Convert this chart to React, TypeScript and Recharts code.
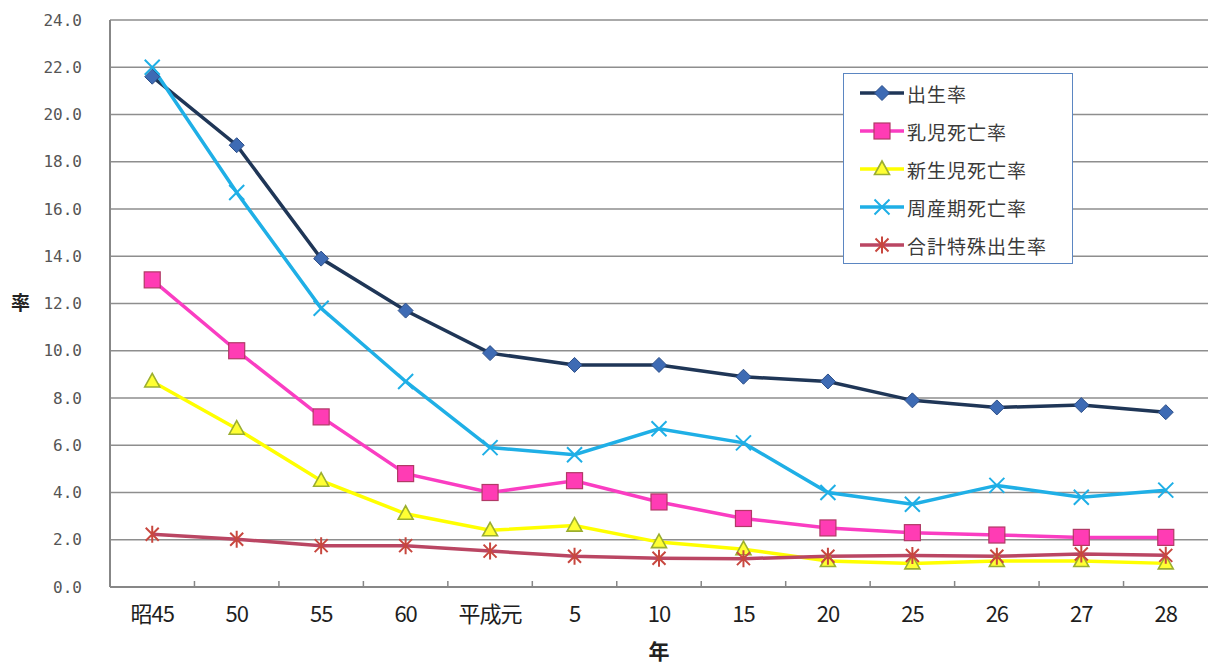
import React from "react";
import {
  LineChart,
  Line,
  XAxis,
  YAxis,
  CartesianGrid,
  Legend,
} from "recharts";

// 年次
const years = ["昭45", "50", "55", "60", "平成元", "5", "10", "15", "20", "25", "26", "27", "28"];

// 各率（人口千対など）
const birthRate = [21.6, 18.7, 13.9, 11.7, 9.9, 9.4, 9.4, 8.9, 8.7, 7.9, 7.6, 7.7, 7.4];
const infantMortality = [13.0, 10.0, 7.2, 4.8, 4.0, 4.5, 3.6, 2.9, 2.5, 2.3, 2.2, 2.1, 2.1];
const neonatalMortality = [8.7, 6.7, 4.5, 3.1, 2.4, 2.6, 1.9, 1.6, 1.1, 1.0, 1.1, 1.1, 1.0];
const perinatalMortality = [22.0, 16.7, 11.8, 8.7, 5.9, 5.6, 6.7, 6.1, 4.0, 3.5, 4.3, 3.8, 4.1];
const totalFertility = [2.23, 2.02, 1.75, 1.75, 1.52, 1.3, 1.22, 1.2, 1.3, 1.33, 1.3, 1.4, 1.34];

const yTicks = [0, 2, 4, 6, 8, 10, 12, 14, 16, 18, 20, 22, 24];

const data = years.map((year, i) => ({
  year,
  birth: birthRate[i],
  infant: infantMortality[i],
  neonatal: neonatalMortality[i],
  perinatal: perinatalMortality[i],
  fertility: totalFertility[i],
}));

const W = 1208;
const H = 664;
const M = { top: 20, right: 0, bottom: 0, left: 0 };
const Y_AXIS_W = 110;
const X_AXIS_H = 77;
const BAND = (W - Y_AXIS_W - M.right) / years.length;

const AXIS = "#878787";
const JP = '"Noto Sans CJK JP", "Noto Sans", sans-serif';

type Marker = "diamond" | "square" | "triangle" | "cross" | "star";

const series: {
  key: string;
  name: string;
  line: string;
  fill: string;
  stroke: string;
  marker: Marker;
}[] = [
  { key: "birth", name: "出生率", line: "#1F3657", fill: "#3E6BB4", stroke: "#2C4E88", marker: "diamond" },
  { key: "infant", name: "乳児死亡率", line: "#FA3DC2", fill: "#FF3CB4", stroke: "#B13A66", marker: "square" },
  { key: "neonatal", name: "新生児死亡率", line: "#FFFF00", fill: "#FFFF33", stroke: "#9BAE30", marker: "triangle" },
  { key: "perinatal", name: "周産期死亡率", line: "#1FAFE6", fill: "none", stroke: "#1FAFE6", marker: "cross" },
  { key: "fertility", name: "合計特殊出生率", line: "#BA4663", fill: "none", stroke: "#C8473F", marker: "star" },
];

const drawMarker = (marker: Marker, cx: number, cy: number, fill: string, stroke: string) => {
  switch (marker) {
    case "diamond":
      return (
        <path
          d={`M${cx},${cy - 7.5}L${cx + 7.5},${cy}L${cx},${cy + 7.5}L${cx - 7.5},${cy}Z`}
          fill={fill}
          stroke={stroke}
          strokeWidth={1}
        />
      );
    case "square":
      return <rect x={cx - 8} y={cy - 8} width={16} height={16} fill={fill} stroke={stroke} strokeWidth={1.2} />;
    case "triangle":
      return (
        <path
          d={`M${cx},${cy - 8}L${cx + 7.5},${cy + 5.5}L${cx - 7.5},${cy + 5.5}Z`}
          fill={fill}
          stroke={stroke}
          strokeWidth={1.6}
        />
      );
    case "cross":
      return (
        <path
          d={`M${cx - 7.5},${cy - 7.5}L${cx + 7.5},${cy + 7.5}M${cx - 7.5},${cy + 7.5}L${cx + 7.5},${cy - 7.5}`}
          stroke={stroke}
          strokeWidth={2}
          fill="none"
        />
      );
    case "star":
      return (
        <path
          d={`M${cx - 6.5},${cy - 6.5}L${cx + 6.5},${cy + 6.5}M${cx - 6.5},${cy + 6.5}L${cx + 6.5},${cy - 6.5}M${cx},${cy - 8.5}L${cx},${cy + 8.5}`}
          stroke={stroke}
          strokeWidth={2}
          fill="none"
        />
      );
  }
};

const makeDot = (s: (typeof series)[number]) => (props: any) => {
  const { cx, cy, index } = props;
  if (cx == null || cy == null) return <g key={`${s.key}-${index}`} />;
  return <g key={`${s.key}-${index}`}>{drawMarker(s.marker, cx, cy, s.fill, s.stroke)}</g>;
};

// 目盛線は項目の境界に内向きで描く
const XTick = (props: any) => {
  const { x, y, payload, index } = props;
  const edge = x - BAND / 2;
  return (
    <g>
      {index > 0 && <line x1={edge} x2={edge} y1={y - 6} y2={y} stroke={AXIS} strokeWidth={1.5} />}
      <text
        x={x}
        y={y + 35}
        textAnchor="middle"
        fontSize={22}
        fontFamily={JP}
        fill="#1E1E1E"
        letterSpacing={-1}
      >
        {payload.value}
      </text>
    </g>
  );
};

const LegendBox = () => (
  <div
    style={{
      width: 230,
      height: 191,
      border: "1.5px solid #5B86C2",
      background: "#fff",
      boxSizing: "border-box",
    }}
  >
    {series.map((s) => (
      <div key={s.key} style={{ display: "flex", alignItems: "center", height: 38 }}>
        <svg width={62} height={20} style={{ flex: "none" }}>
          <line x1={16} x2={60} y1={10} y2={10} stroke={s.line} strokeWidth={3.5} />
          {drawMarker(s.marker, 38, 10, s.fill, s.stroke)}
        </svg>
        <span
          style={{
            fontFamily: JP,
            fontSize: 19,
            color: "#3A3A3A",
            letterSpacing: 1,
            marginLeft: 1,
            lineHeight: 1,
          }}
        >
          {s.name}
        </span>
      </div>
    ))}
  </div>
);

export default function App() {
  return (
    <div style={{ position: "absolute", left: 0, top: 0, width: W, height: H, background: "#fff" }}>
      <LineChart width={W} height={H} data={data} margin={M}>
        <CartesianGrid horizontal vertical={false} stroke="#8E8E8E" strokeWidth={1.5} />
        <XAxis
          dataKey="year"
          scale="band"
          height={X_AXIS_H}
          axisLine={{ stroke: AXIS, strokeWidth: 2 }}
          tickLine={false}
          tickSize={0}
          tickMargin={0}
          interval={0}
          tick={<XTick />}
          label={{
            value: "年",
            position: "insideBottom",
            offset: 5,
            style: { fontFamily: JP, fontSize: 21, fontWeight: 700, fill: "#222" },
          }}
        />
        <YAxis
          width={Y_AXIS_W}
          domain={[0, 24]}
          ticks={yTicks}
          interval={0}
          axisLine={{ stroke: AXIS, strokeWidth: 2 }}
          tickLine={false}
          tickSize={0}
          tickMargin={28}
          tickFormatter={(v: number) => v.toFixed(1)}
          tick={{ fontSize: 16, fill: "#555", fontFamily: '"DejaVu Sans Mono", monospace' }}
          label={{
            value: "率",
            position: "insideLeft",
            offset: 11,
            style: { fontFamily: JP, fontSize: 19, fontWeight: 700, fill: "#222" },
          }}
        />
        <Legend
          layout="vertical"
          align="center"
          verticalAlign="middle"
          content={() => <LegendBox />}
          wrapperStyle={{ position: "absolute", left: 843, top: 73, width: 230, height: 191 }}
        />
        {series.map((s) => (
          <Line
            key={s.key}
            type="linear"
            dataKey={s.key}
            name={s.name}
            stroke={s.line}
            strokeWidth={3.5}
            dot={makeDot(s)}
            activeDot={false}
            isAnimationActive={false}
          />
        ))}
      </LineChart>
    </div>
  );
}
